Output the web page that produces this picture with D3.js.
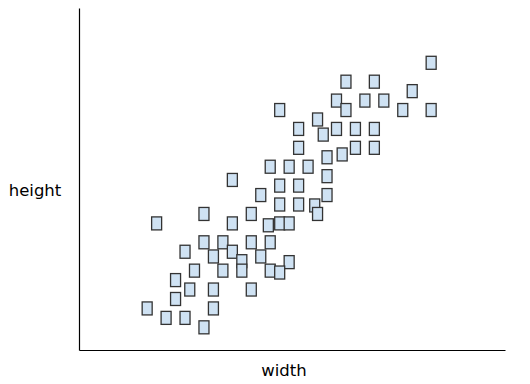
<!DOCTYPE html>
<html>
<head>
<meta charset="utf-8">
<script src="https://cdn.jsdelivr.net/npm/d3@7"></script>
<style>
  body { margin: 0; background: #fff; }
  text { font-family: "DejaVu Sans", "Noto Sans", sans-serif; }
</style>
</head>
<body>
<div id="chart"></div>
<script>
// data
var widths = [40, 31, 34, 38, 30, 33, 35, 31, 37, 40, 24, 28, 26, 28.6, 30, 32, 34,
    26, 29, 30.6, 32, 34, 23, 25, 27, 29, 19, 24, 26, 29, 22, 24, 26, 27.7, 28,
    21, 16, 11, 19, 22.8, 24, 25, 16, 18, 21, 23, 14, 17, 19, 20, 22, 25, 15,
    18, 20, 23, 24, 13, 14.5, 17, 21, 13, 10, 17, 12, 14, 16];
var heights = [38, 36, 36, 35, 34, 34, 34, 33, 33, 33, 33, 32, 31, 30.4, 31, 31, 31,
    29, 28, 28.3, 29, 29, 27, 27, 27, 26, 25.6, 25, 25, 24, 24, 23, 23, 22.9, 22,
    22, 22, 21, 21, 20.8, 21, 21, 19, 19, 19, 19, 18, 17.5, 18, 17, 17.5, 16.9, 16,
    16, 16, 16, 15.8, 15, 14, 14, 14, 13, 12, 12, 11, 11, 10];
var xLabel = "width";
var yLabel = "height";

var margin = {top: 8, right: 25, bottom: 34, left: 79},
    width = 530 - margin.left - margin.right,
    height = 384 - margin.top - margin.bottom;

var svg = d3.select("#chart")
    .append("svg")
    .attr("width", 530)
    .attr("height", 384)
    .append("g")
    .attr("transform", "translate(" + margin.left + "," + margin.top + ")");

var x = d3.scaleLinear().domain([2.8, 47.8]).range([0, width]);
var y = d3.scaleLinear().domain([7.6, 43.8]).range([height, 0]);

// axes without ticks
svg.append("g")
    .attr("transform", "translate(0," + height + ")")
    .call(d3.axisBottom(x).tickValues([]).tickSizeOuter(0))
    .select(".domain").attr("stroke", "#000").attr("stroke-width", 1.2);
svg.append("g")
    .call(d3.axisLeft(y).tickValues([]).tickSizeOuter(0))
    .select(".domain").attr("stroke", "#000").attr("stroke-width", 1.2);

// labels
svg.append("text")
    .attr("x", width / 2 - 8)
    .attr("y", height + 26)
    .attr("text-anchor", "middle")
    .style("font-size", "16.5px")
    .text(xLabel);
svg.append("text")
    .attr("x", -44)
    .attr("y", 188)
    .attr("text-anchor", "middle")
    .style("font-size", "16.5px")
    .text(yLabel);

// markers
var pts = widths.map(function (w, i) { return {w: w, h: heights[i]}; });
svg.selectAll("rect.pt")
    .data(pts)
    .enter()
    .append("rect")
    .attr("class", "pt")
    .attr("x", function (d) { return x(d.w) - 5; })
    .attr("y", function (d) { return y(d.h) - 6.5; })
    .attr("width", 10)
    .attr("height", 13)
    .style("fill", "#cfe2f3")
    .attr("stroke", "#333")
    .attr("stroke-width", 1.3);
</script>
</body>
</html>
